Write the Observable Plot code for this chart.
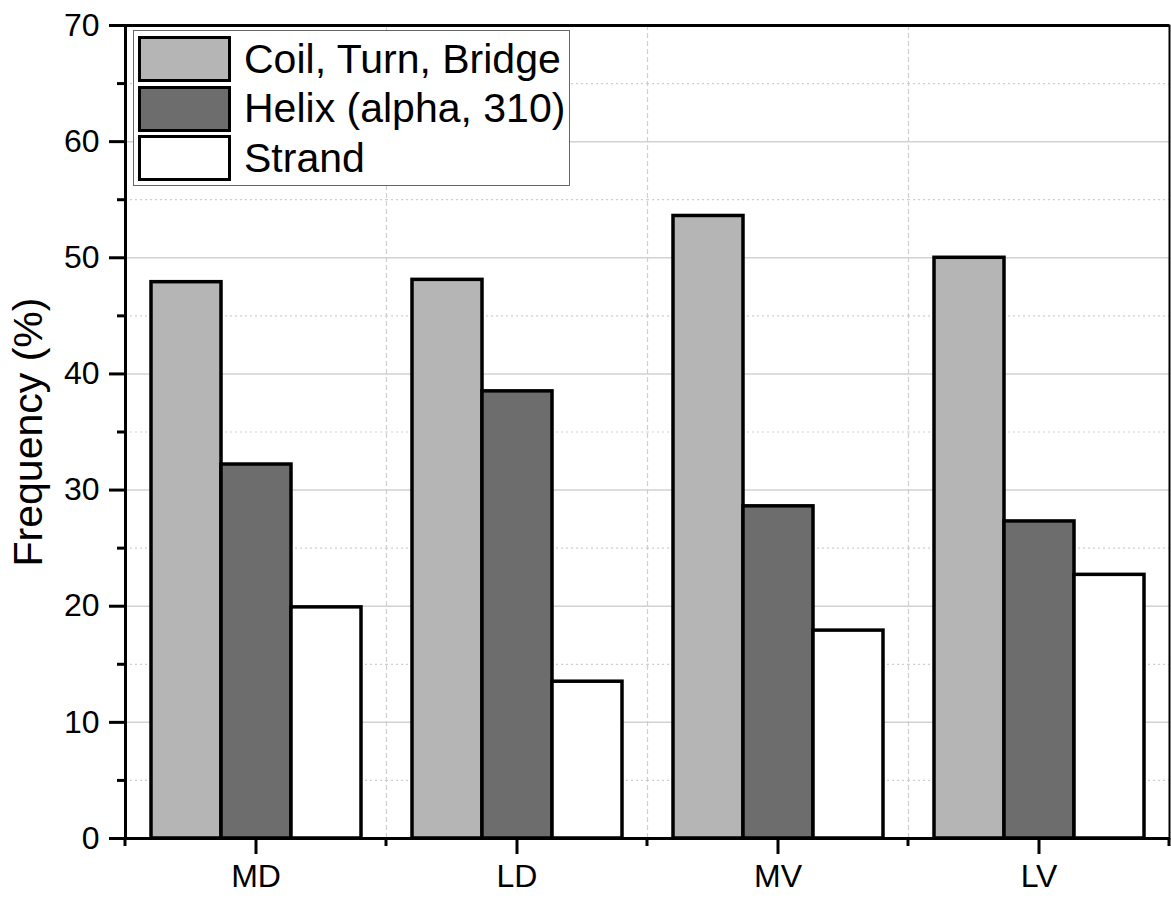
<!DOCTYPE html>
<html><head><meta charset="utf-8">
<script src="https://cdn.jsdelivr.net/npm/d3@7"></script>
<script src="https://cdn.jsdelivr.net/npm/@observablehq/plot@0.6"></script>
<style>
body{margin:0;background:#fff;font-family:"Liberation Sans",Arial,sans-serif;}
#wrap{position:relative;width:1171px;height:898px;}
#legend{position:absolute;left:133px;top:30px;width:437px;height:156px;box-sizing:border-box;border:1px solid #666;background:#fff;}
.row{position:absolute;left:4px;height:46px;display:flex;align-items:center;}
.sw{width:93px;height:46px;box-sizing:border-box;border:3.5px solid #000;flex:none;}
.lab{margin-left:13px;font-size:41px;color:#000;white-space:nowrap;}
</style></head>
<body><div id="wrap"></div>
<script>
const categories = ["MD", "LD", "MV", "LV"];
const seriesNames = ["Coil, Turn, Bridge", "Helix (alpha, 310)", "Strand"];
const coilValues = [47.9, 48.1, 53.6, 50.0];
const helixValues = [32.2, 38.5, 28.6, 27.3];
const strandValues = [19.9, 13.5, 17.9, 22.7];
const seriesColors = ["#b5b5b5", "#6d6d6d", "#ffffff"];
const yMajorTicks = [0, 10, 20, 30, 40, 50, 60, 70];
const yMinorTicks = [5, 15, 25, 35, 45, 55, 65];
const yLabel = "Frequency (%)";

const valuesBySeries = [coilValues, helixValues, strandValues];
const rows = categories.flatMap((c, i) =>
  seriesNames.map((s, j) => ({category: c, series: s, value: valuesBySeries[j][i]})));

const chart = Plot.plot({
  width: 1171, height: 898,
  marginLeft: 124, marginRight: 1, marginTop: 25, marginBottom: 60,
  style: {fontFamily: "Liberation Sans, Arial, sans-serif", color: "#000", background: "transparent"},
  fx: {domain: categories, padding: 0, axis: null},
  x: {domain: seriesNames, paddingInner: 0, paddingOuter: 0.36, axis: null},
  y: {domain: [0, 70], axis: null},
  color: {domain: seriesNames, range: seriesColors},
  marks: [
    Plot.ruleY(yMinorTicks, {stroke: "#cfcfcf", strokeWidth: 1.2, strokeDasharray: "2,3"}),
    Plot.ruleY(yMajorTicks.filter(d => d > 0 && d < 70), {stroke: "#d2d2d2", strokeWidth: 1.5}),
    Plot.frame({anchor: "left", stroke: "#cfcfcf", strokeDasharray: "4,4", strokeWidth: 1.2}),
    Plot.barY(rows, {fx: "category", x: "series", y: "value", fill: "series", stroke: "#000", strokeWidth: 3.5}),
    Plot.ruleY([0], {stroke: "#000", strokeWidth: 3}),
    Plot.ruleY([70], {stroke: "#000", strokeWidth: 3}),
    Plot.frame({anchor: "left", facetAnchor: "left", stroke: "#000", strokeWidth: 3}),
    Plot.frame({anchor: "right", facetAnchor: "right", stroke: "#000", strokeWidth: 2}),
    Plot.axisY(yMinorTicks, {tickSize: 8, strokeWidth: 3, tickFormat: () => "", label: null}),
    Plot.axisY(yMajorTicks, {tickSize: 16, tickPadding: 10, strokeWidth: 3, fontSize: 32, label: null}),
    Plot.axisY([], {label: yLabel, labelAnchor: "center", labelOffset: 113, labelArrow: "none", fontSize: 41}),
    Plot.axisFx({anchor: "bottom", tickSize: 16, tickPadding: 10, strokeWidth: 3, fontSize: 32, label: null})
  ]
});

// minor x ticks at category band boundaries, from Plot's fx scale
const fxs = chart.scale("fx");
const ys = chart.scale("y");
const bounds = categories.map(c => fxs.apply(c)).concat([fxs.apply(categories[categories.length - 1]) + fxs.bandwidth]);
const y0 = ys.apply(0);
const g = d3.select(chart).append("g").attr("stroke", "#000").attr("stroke-width", 3);
bounds.forEach(b => g.append("line").attr("x1", b).attr("x2", b).attr("y1", y0).attr("y2", y0 + 8));

const wrap = document.getElementById("wrap");
wrap.appendChild(chart);

// legend overlay
const legend = document.createElement("div");
legend.id = "legend";
seriesNames.forEach((s, j) => {
  const row = document.createElement("div");
  row.className = "row";
  row.style.top = (5 + j * 49.5) + "px";
  const sw = document.createElement("div");
  sw.className = "sw";
  sw.style.background = seriesColors[j];
  const lab = document.createElement("span");
  lab.className = "lab";
  lab.textContent = s;
  row.appendChild(sw); row.appendChild(lab);
  legend.appendChild(row);
});
wrap.appendChild(legend);
</script>
</body></html>
